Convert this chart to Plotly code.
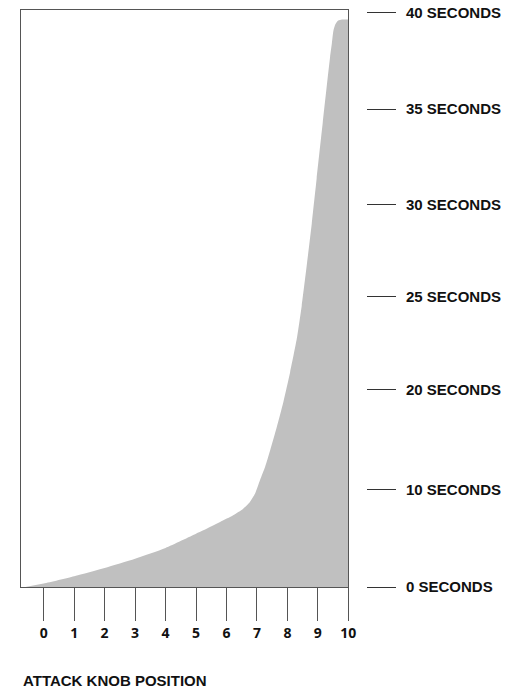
import numpy as np
import plotly.graph_objects as go


# -------------------------------------------------
# Data
# -------------------------------------------------

knob = [-0.6, 0, 1, 2, 3, 4, 5, 5.24, 5.79, 6.22, 6.55, 6.77,
        6.94, 7.10, 7.27, 7.43, 7.65, 7.87, 8.09, 8.31, 8.47, 8.63, 8.80,
        8.96, 9.16, 9.40, 9.46, 9.51, 9.58, 9.67, 9.79, 10]
attack_seconds = [0, 0.35, 1.1, 1.95, 2.9, 4.0, 5.45, 5.80, 6.65, 7.34,
                  8.02, 8.70, 9.56, 10.90, 12.26, 13.86, 16.22, 18.80, 20.94,
                  22.75, 24.51, 26.63, 28.97, 31.36, 34.27, 37.67, 38.39,
                  39.03, 39.39, 39.57, 39.63, 39.63]

knob_ticks = list(range(0, 11))
second_ticks = [0, 10, 20, 25, 30, 35, 40]
second_labels = [f"{s} SECONDS" for s in second_ticks]

# the printed time scale is not linear: each labelled time sits on its own stop
scale_stops = [0, 1.02, 2.06, 3.03, 3.99, 4.99, 6.0]

y_pos = np.interp(attack_seconds, second_ticks, scale_stops)


# -------------------------------------------------
# Figure
# -------------------------------------------------

W, H = 512, 698
L, R = 21, 0
plot_right = 348.3
paper_w = W - L - R
x_dom_end = (plot_right - L) / paper_w
tick_axis_pos = (366 - L) / paper_w

fig = go.Figure()

fig.add_trace(
    go.Scatter(
        x=knob,
        y=y_pos,
        mode="lines",
        line=dict(width=0, color="#c0c0c0", shape="spline", smoothing=0.6),
        fill="tozeroy",
        fillcolor="#c0c0c0",
        hoverinfo="skip",
        showlegend=False
    )
)

# invisible trace so the right-hand time axis is drawn
fig.add_trace(
    go.Scatter(
        x=[knob[0]],
        y=[0],
        yaxis="y2",
        mode="markers",
        marker=dict(opacity=0),
        hoverinfo="skip",
        showlegend=False
    )
)

y_range = [0, 6.024]

fig.update_layout(
    width=W,
    height=H,
    margin=dict(l=L, r=R, t=10, b=111, autoexpand=False),
    showlegend=False,
    plot_bgcolor="white",
    paper_bgcolor="white",
    xaxis=dict(
        domain=[0, x_dom_end],
        range=[-0.745, 10],
        tickvals=knob_ticks,
        ticktext=[str(k) for k in knob_ticks],
        ticks="outside",
        ticklen=33,
        tickwidth=1,
        tickcolor="#555",
        tickfont=dict(family="Open Sans", size=14, color="#111", weight="bold"),
        showgrid=False,
        zeroline=False,
        showline=True,
        mirror=True,
        linecolor="#555",
        linewidth=1,
        automargin=False
    ),
    yaxis=dict(
        range=y_range,
        showticklabels=False,
        ticks="",
        showgrid=False,
        zeroline=False,
        showline=True,
        mirror=True,
        linecolor="#555",
        linewidth=1,
        automargin=False
    ),
    yaxis2=dict(
        overlaying="y",
        anchor="free",
        position=tick_axis_pos,
        side="right",
        range=y_range,
        tickvals=scale_stops,
        ticktext=second_labels,
        ticks="outside",
        ticklen=29,
        tickwidth=1,
        tickcolor="#333",
        ticklabelstandoff=7,
        tickfont=dict(family="Liberation Sans", size=15, color="#111", weight="bold"),
        showline=False,
        showgrid=False,
        zeroline=False,
        automargin=False
    ),
    annotations=[
        dict(
            text="ATTACK KNOB POSITION",
            xref="paper",
            yref="paper",
            x=0,
            y=0,
            xanchor="left",
            yanchor="middle",
            yshift=-93,
            showarrow=False,
            font=dict(family="Liberation Sans", size=15, color="#111", weight="bold")
        )
    ]
)

fig.write_html(
    "out.html",
    config={"displayModeBar": False},
    post_script="document.body.style.margin = '0';"
)
